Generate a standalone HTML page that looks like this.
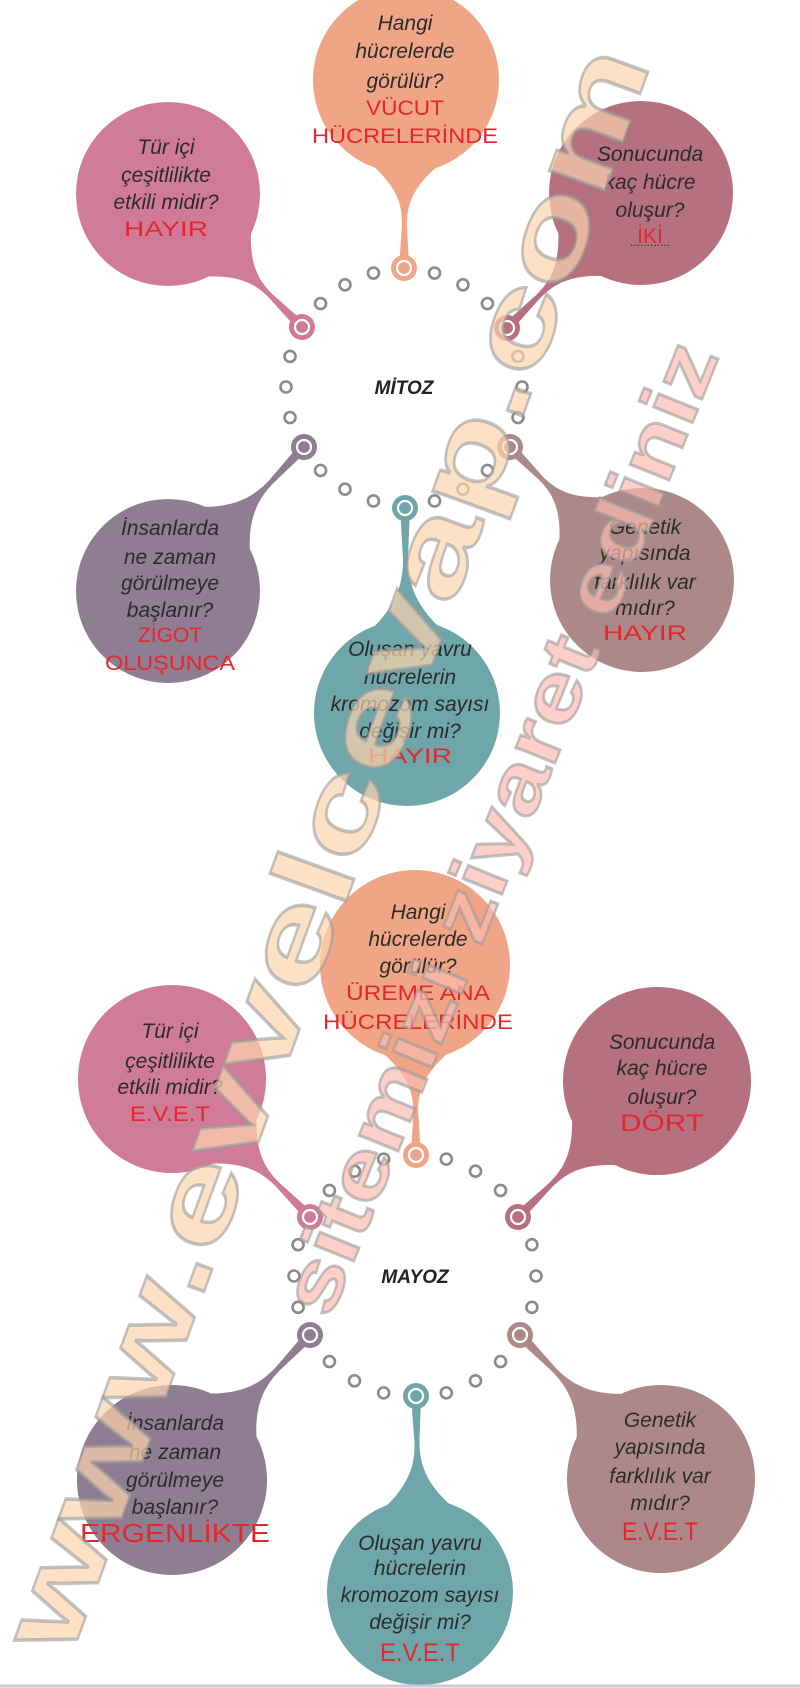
<!DOCTYPE html>
<html><head><meta charset="utf-8"><style>
html,body{margin:0;padding:0;background:#fff;}
svg{display:block}
.q{font-family:"Liberation Sans",sans-serif;font-style:italic;font-size:21px;fill:#2b2b2b;text-anchor:middle}
.a{font-family:"Liberation Sans",sans-serif;font-size:21px;fill:#e4262e;text-anchor:middle}
.t{font-family:"Liberation Sans",sans-serif;font-style:italic;font-weight:bold;font-size:19px;fill:#222;text-anchor:middle}
.wm{font-family:"Liberation Sans",sans-serif;font-weight:bold;fill:#fcd4ae;fill-opacity:0.7;stroke:#9a9a9a;stroke-opacity:0.6;stroke-width:2.5}
</style></head><body>
<svg id="s" width="800" height="1688" viewBox="0 0 800 1688" xmlns="http://www.w3.org/2000/svg">
<g id="shapes"></g>
<g id="dots"></g>

<!-- MITOZ text -->
<text class="t" x="404" y="394">MİTOZ</text>
<text class="q" x="405" y="30">Hangi</text>
<text class="q" x="405" y="58">hücrelerde</text>
<text class="q" x="405" y="88">görülür?</text>
<text class="a" x="405" y="115" textLength="78" lengthAdjust="spacingAndGlyphs">VÜCUT</text>
<text class="a" x="405" y="143" textLength="186" lengthAdjust="spacingAndGlyphs">HÜCRELERİNDE</text>

<text class="q" x="166" y="154">Tür içi</text>
<text class="q" x="166" y="182">çeşitlilikte</text>
<text class="q" x="166" y="209">etkili midir?</text>
<text class="a" x="166" y="236" textLength="84" lengthAdjust="spacingAndGlyphs">HAYIR</text>

<text class="q" x="650" y="161">Sonucunda</text>
<text class="q" x="650" y="189">kaç hücre</text>
<text class="q" x="650" y="217">oluşur?</text>
<text class="a" x="650" y="243">İKİ</text>
<text class="q" x="650" y="246" style="font-size:12px;font-style:normal">............</text>

<text class="q" x="170" y="535">İnsanlarda</text>
<text class="q" x="170" y="564">ne zaman</text>
<text class="q" x="170" y="590">görülmeye</text>
<text class="q" x="170" y="617">başlanır?</text>
<text class="a" x="170" y="642">ZİGOT</text>
<text class="a" x="170" y="670" textLength="130" lengthAdjust="spacingAndGlyphs">OLUŞUNCA</text>

<text class="q" x="645" y="534">Genetik</text>
<text class="q" x="645" y="560">yapısında</text>
<text class="q" x="645" y="589">farklılık var</text>
<text class="q" x="645" y="615">mıdır?</text>
<text class="a" x="645" y="640" textLength="84" lengthAdjust="spacingAndGlyphs">HAYIR</text>

<text class="q" x="410" y="656">Oluşan yavru</text>
<text class="q" x="410" y="684">hücrelerin</text>
<text class="q" x="410" y="711">kromozom sayısı</text>
<text class="q" x="410" y="738">değişir mi?</text>
<text class="a" x="410" y="763" textLength="84" lengthAdjust="spacingAndGlyphs">HAYIR</text>

<!-- MAYOZ text -->
<text class="t" x="415" y="1283">MAYOZ</text>
<text class="q" x="418" y="919">Hangi</text>
<text class="q" x="418" y="946">hücrelerde</text>
<text class="q" x="418" y="973">görülür?</text>
<text class="a" x="418" y="1000" textLength="144" lengthAdjust="spacingAndGlyphs">ÜREME ANA</text>
<text class="a" x="418" y="1029" textLength="190" lengthAdjust="spacingAndGlyphs">HÜCRELERİNDE</text>

<text class="q" x="170" y="1038">Tür içi</text>
<text class="q" x="170" y="1068">çeşitlilikte</text>
<text class="q" x="170" y="1094">etkili midir?</text>
<text class="a" x="170" y="1121" textLength="80" lengthAdjust="spacingAndGlyphs">E.V.E.T</text>

<text class="q" x="662" y="1049">Sonucunda</text>
<text class="q" x="662" y="1075">kaç hücre</text>
<text class="q" x="662" y="1104">oluşur?</text>
<text class="a" x="662" y="1131" style="font-size:24px" textLength="84" lengthAdjust="spacingAndGlyphs">DÖRT</text>

<text class="q" x="175" y="1430">İnsanlarda</text>
<text class="q" x="175" y="1459">ne zaman</text>
<text class="q" x="175" y="1487">görülmeye</text>
<text class="q" x="175" y="1514">başlanır?</text>
<text class="a" x="175" y="1542" style="font-size:26px" textLength="190" lengthAdjust="spacingAndGlyphs">ERGENLİKTE</text>

<text class="q" x="660" y="1427">Genetik</text>
<text class="q" x="660" y="1454">yapısında</text>
<text class="q" x="660" y="1483">farklılık var</text>
<text class="q" x="660" y="1510">mıdır?</text>
<text class="a" x="660" y="1540" style="font-size:25px" textLength="76" lengthAdjust="spacingAndGlyphs">E.V.E.T</text>

<text class="q" x="420" y="1550">Oluşan yavru</text>
<text class="q" x="420" y="1575">hücrelerin</text>
<text class="q" x="420" y="1602">kromozom sayısı</text>
<text class="q" x="420" y="1629">değişir mi?</text>
<text class="a" x="420" y="1661" style="font-size:25px" textLength="80" lengthAdjust="spacingAndGlyphs">E.V.E.T</text>

<!-- watermark -->
<text class="wm" font-size="112" transform="translate(70,1660) rotate(-70)" textLength="1700" lengthAdjust="spacingAndGlyphs">www.evvelcevap.com</text>
<text class="wm" font-size="80" transform="translate(330,1320) rotate(-68)" textLength="1040" lengthAdjust="spacingAndGlyphs" style="fill:#fbbcb0">sitemizi ziyaret ediniz</text>

<line x1="0" y1="1686" x2="800" y2="1686" stroke="#c8ccd2" stroke-width="3"/>
</svg>
<script>
(function(){
var NS="http://www.w3.org/2000/svg";
var sh=document.getElementById("shapes"),dg=document.getElementById("dots");
function el(t,a,p){var e=document.createElementNS(NS,t);for(var k in a)e.setAttribute(k,a[k]);(p||sh).appendChild(e);return e;}
function bubble(cx,cy,r,rx,ry,col){
 var dx=cx-rx,dy=cy-ry,L=Math.sqrt(dx*dx+dy*dy),ux=dx/L,uy=dy/L,nx=-uy,ny=ux;
 var bx=cx-ux*r*0.8,by=cy-uy*r*0.8,w=r*0.5;
 var nkx=rx+ux*(L-r)*0.45,nky=ry+uy*(L-r)*0.45,nw=2.5;
 var ex=cx-ux*(r+12),ey=cy-uy*(r+12);
 var d="M"+(bx+nx*w)+","+(by+ny*w)+
 " C"+(ex+nx*6)+","+(ey+ny*6)+" "+(nkx+ux*20+nx*nw)+","+(nky+uy*20+ny*nw)+" "+(nkx+nx*nw)+","+(nky+ny*nw)+
 " L"+(rx+nx*5)+","+(ry+ny*5)+" L"+(rx-nx*5)+","+(ry-ny*5)+" L"+(nkx-nx*nw)+","+(nky-ny*nw)+
 " C"+(nkx+ux*20-nx*nw)+","+(nky+uy*20-ny*nw)+" "+(ex-nx*6)+","+(ey-ny*6)+" "+(bx-nx*w)+","+(by-ny*w)+"Z";
 el("path",{d:d,fill:col});
 el("circle",{cx:cx,cy:cy,r:r,fill:col});
 el("circle",{cx:rx,cy:ry,r:13,fill:col},dg);
 el("circle",{cx:rx,cy:ry,r:7,fill:"none",stroke:"#fff","stroke-width":2.2},dg);
}
function ring(cx,cy,R,n){
 for(var i=0;i<n;i++){var a=i*2*Math.PI/n;
  var x=cx+R*Math.sin(a),y=cy-R*Math.cos(a);
  el("circle",{cx:x,cy:y,r:5.5,fill:"#fff",stroke:"#8a8a8a","stroke-width":2.6},dg);}
}
ring(404,387,118,24);
ring(415,1276,121,24);
var C={or:"#f0a686",pk:"#d07c98",mr:"#b5717f",pu:"#8f7e92",rb:"#ad8888",tl:"#6fa6aa"};
bubble(406,80,93,404,268,C.or);
bubble(168,194,92,302,327,C.pk);
bubble(641,193,92,507,328,C.mr);
bubble(168,591,92,304,447,C.pu);
bubble(642,580,92,510,447,C.rb);
bubble(407,713,93,405,508,C.tl);
bubble(415,965,95,416,1155,C.or);
bubble(172,1079,94,310,1217,C.pk);
bubble(657,1081,94,518,1217,C.mr);
bubble(172,1480,95,310,1335,C.pu);
bubble(661,1479,94,520,1335,C.rb);
bubble(420,1592,93,416,1396,C.tl);
})();
</script>
</body></html>
